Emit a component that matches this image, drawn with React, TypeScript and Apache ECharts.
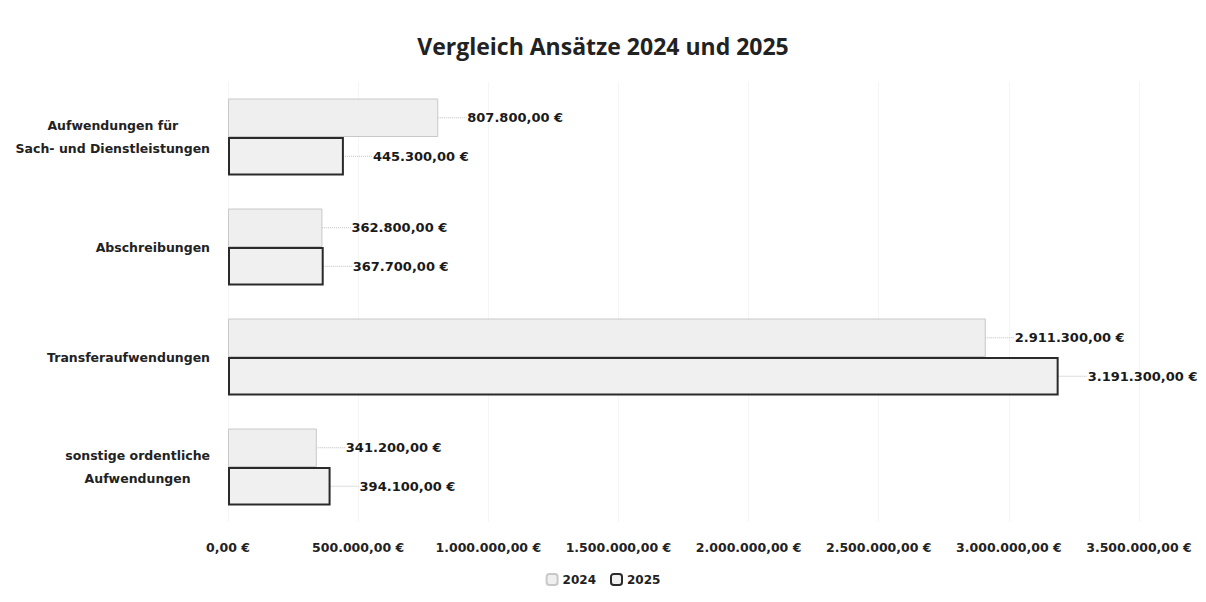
import React, { useEffect, useRef } from "react";
import * as echarts from "echarts";

const categories = [
  "Aufwendungen für\nSach- und Dienstleistungen",
  "Abschreibungen",
  "Transferaufwendungen",
  "sonstige ordentliche\nAufwendungen",
];
const values2024 = [807800, 362800, 2911300, 341200];
const values2025 = [445300, 367700, 3191300, 394100];
const seriesNames = ["2024", "2025"];
const titleText = "Vergleich Ansätze 2024 und 2025";

const FONT = "'DejaVu Sans', 'Noto Sans', sans-serif";
const TFONT = "'Open Sans', 'Noto Sans', sans-serif";

function fmtEuro(v: number): string {
  const fixed = Math.abs(v).toFixed(2);
  const [intPart, dec] = fixed.split(".");
  const withDots = intPart.replace(/\B(?=(\d{3})+(?!\d))/g, ".");
  return (v < 0 ? "-" : "") + withDots + "," + dec + " €";
}

export default function App() {
  const ref = useRef<HTMLDivElement>(null);
  useEffect(() => {
    if (!ref.current) return;
    const chart = echarts.init(ref.current, undefined, { renderer: "svg" });
    const labelCfg = {
      show: true,
      position: "right" as const,
      formatter: (p: any) => fmtEuro(p.value),
      color: "#1a1a1a",
      fontFamily: FONT,
      fontWeight: "bold" as const,
      fontSize: 13,
    };
    const lineCfg = { show: true, lineStyle: { color: "#bdbdbd", width: 1, type: "dotted" as const } };
    chart.setOption({
      animation: false,
      backgroundColor: "#ffffff",
      title: {
        text: titleText,
        left: "center",
        top: 29,
        textStyle: { fontFamily: TFONT, fontWeight: "bold", fontSize: 23, color: "#222" },
      },
      legend: {
        bottom: 11,
        left: "center",
        itemWidth: 11,
        itemHeight: 11,
        itemGap: 14,
        textStyle: { fontFamily: FONT, fontWeight: "bold", fontSize: 12, color: "#222" },
        data: seriesNames,
      },
      grid: { left: 228, right: 67, top: 82, bottom: 80, containLabel: false },
      xAxis: {
        type: "value",
        min: 0,
        max: 3500000,
        interval: 500000,
        axisLine: { show: false },
        axisTick: { show: false },
        splitLine: { show: true, lineStyle: { color: "#f5f5f5", width: 1 } },
        axisLabel: {
          formatter: (v: number) => fmtEuro(v),
          color: "#222",
          fontFamily: FONT,
          fontWeight: "bold",
          fontSize: 12.5,
          margin: 19,
        },
      },
      yAxis: {
        type: "category",
        inverse: true,
        data: categories,
        axisLine: { show: false },
        axisTick: { show: false },
        axisLabel: {
          margin: 18,
          formatter: (v: string) =>
            v
              .split("\n")
              .map((l) => "{a|" + l + "}")
              .join("\n"),
          rich: {
            a: {
              align: "center",
              color: "#222",
              fontFamily: FONT,
              fontWeight: "bold",
              fontSize: 12.5,
              lineHeight: 23,
            },
          },
        },
      },
      series: [
        {
          name: seriesNames[0],
          type: "bar",
          data: values2024,
          barGap: "0%",
          barCategoryGap: "30%",
          itemStyle: { color: "#efefef", borderColor: "#c8c8c8", borderWidth: 1 },
          label: labelCfg,
          labelLayout: { dx: 24 },
          labelLine: lineCfg,
        },
        {
          name: seriesNames[1],
          type: "bar",
          data: values2025,
          barGap: "0%",
          barCategoryGap: "30%",
          itemStyle: { color: "#f0f0f0", borderColor: "#2a2a2a", borderWidth: 2 },
          label: labelCfg,
          labelLayout: { dx: 24 },
          labelLine: lineCfg,
        },
      ],
    });
    return () => chart.dispose();
  }, []);
  return (
    <div
      ref={ref}
      style={{ position: "fixed", left: 0, top: 0, width: 1206, height: 602, background: "#fff" }}
    />
  );
}
